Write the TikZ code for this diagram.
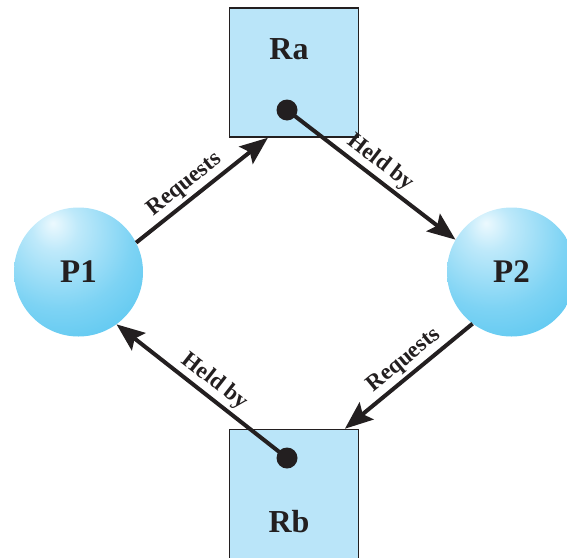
\documentclass[tikz,border=0pt]{standalone}
\usepackage{fontspec}
\setmainfont{Liberation Serif}
\usetikzlibrary{arrows.meta,calc,positioning}
\definecolor{inkdark}{RGB}{35,31,32}
\definecolor{boxblue}{RGB}{186,229,249}
\definecolor{ballhi}{RGB}{236,249,254}
\definecolor{balllt}{RGB}{190,233,250}
\definecolor{ballmid}{RGB}{125,211,244}
\definecolor{ballcy}{RGB}{88,198,240}
\pgfdeclareradialshading{procball}{\pgfpoint{-10bp}{19bp}}{color(0bp)=(ballhi); color(9bp)=(balllt); color(28bp)=(ballmid); color(44bp)=(ballcy); color(100bp)=(ballcy)}
\tikzset{
  proc/.style={circle, minimum size=129pt, inner sep=0pt, shading=procball,
    text=inkdark, font=\fontsize{33}{33}\selectfont\bfseries},
  resbox/.style={rectangle, draw=inkdark, line width=1.5pt, fill=boxblue,
    minimum size=129pt, inner sep=0pt},
  restext/.style={text=inkdark, font=\fontsize{32}{32}\selectfont\bfseries, inner sep=0pt},
  holddot/.style={circle, fill=inkdark, minimum size=21pt, inner sep=0pt},
  edge/.style={draw=inkdark, line width=4pt,
    -{Stealth[length=28pt, width=22pt, inset=5pt]}},
  lbl/.style={text=inkdark, font=\fontsize{23}{23}\selectfont\bfseries,
    sloped, above, inner sep=3pt}
}
\begin{document}
\begin{tikzpicture}[x=1pt, y=-1pt]
  \useasboundingbox (0,0) rectangle (567,557);

  % Resources
  \node[resbox] (Ra) at (294,72.5) {};
  \node[resbox] (Rb) at (294,494) {};
  \node[restext] (RaText) at (289,49) {Ra};
  \node[restext] (RbText) at (289,522) {Rb};
  \node[holddot] (RaDot) at (287,110) {};
  \node[holddot] (RbDot) at (287,458) {};

  % Processes
  \node[proc] (P1) at (78.5,272) {P1};
  \node[proc] (P2) at (511.5,272) {P2};

  % Edges
  \draw[edge] (P1.27) -- node[lbl, pos=0.44] {Requests} ($(Ra.south west)!0.3!(Ra.south east)$);
  \draw[edge] (RaDot.center) -- node[lbl, pos=0.5] {Held by} (P2.150);
  \draw[edge] (P2.233) -- node[lbl, pos=0.46] {Requests} ($(Rb.north west)!0.89!(Rb.north east)$);
  \draw[edge] (RbDot.center) -- node[lbl, pos=0.48] {Held by} (P1.306);
\end{tikzpicture}
\end{document}
